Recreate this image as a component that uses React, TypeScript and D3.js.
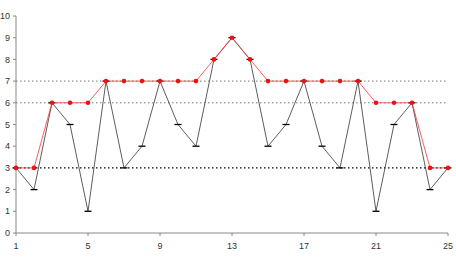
import React from "react";
import * as d3 from "d3";

const xValues = [1,2,3,4,5,6,7,8,9,10,11,12,13,14,15,16,17,18,19,20,21,22,23,24,25];
const blackSeries = [3,2,6,5,1,7,3,4,7,5,4,8,9,8,4,5,7,4,3,7,1,5,6,2,3];
const redSeries = [3,3,6,6,6,7,7,7,7,7,7,8,9,8,7,7,7,7,7,7,6,6,6,3,3];
const xTicks = [1,5,9,13,17,21,25];
const yTicks = [0,1,2,3,4,5,6,7,8,9,10];
const refLines = [
  { v: 7, color: "#555", width: 0.8 },
  { v: 6, color: "#555", width: 0.8 },
  { v: 3, color: "#000", width: 1.3 },
];

export default function App() {
  const W = 456, H = 260;
  const x = d3.scaleLinear().domain([1, 25]).range([16, 448]);
  const y = d3.scaleLinear().domain([0, 10]).range([233, 16]);
  const line = d3.line<number>().x((_, i) => x(xValues[i])).y((d) => y(d));
  const font = "'Liberation Sans Narrow', 'Arial Narrow', 'Liberation Sans', Arial, sans-serif";
  return (
    <svg width={W} height={H} style={{ position: "absolute", left: 0, top: 0, background: "#fff" }}>
      {refLines.map((r) => (
        <line key={r.v} x1={x(1)} x2={448} y1={y(r.v)} y2={y(r.v)} stroke={r.color}
          strokeWidth={r.width} strokeDasharray="1.5,2.5" />
      ))}
      {/* axes */}
      <line x1={x(1)} x2={x(1)} y1={y(0)} y2={y(10)} stroke="#888" strokeWidth={1} />
      <line x1={x(1)} x2={x(25)} y1={y(0)} y2={y(0)} stroke="#888" strokeWidth={1} />
      {yTicks.map((t) => (
        <g key={"y" + t}>
          <line x1={x(1) - 3} x2={x(1)} y1={y(t)} y2={y(t)} stroke="#888" />
          <text x={x(1) - 6} y={y(t)} dy="0.35em" textAnchor="end" fontSize={9} fontFamily={font} fill="#333">{t}</text>
        </g>
      ))}
      {xTicks.map((t) => (
        <g key={"x" + t}>
          <line x1={x(t)} x2={x(t)} y1={y(0)} y2={y(0) + 3} stroke="#888" />
          <text x={x(t)} y={y(0) + 13} dy="0.35em" textAnchor="middle" fontSize={9} fontFamily={font} fill="#333">{t}</text>
        </g>
      ))}
      <path d={line(blackSeries) ?? ""} fill="none" stroke="#333" strokeWidth={0.8} />
      {blackSeries.map((v, i) => (
        <line key={"b" + i} x1={x(xValues[i]) - 3.5} x2={x(xValues[i]) + 3.5} y1={y(v)} y2={y(v)} stroke="#000" strokeWidth={1.3} />
      ))}
      <path d={line(redSeries) ?? ""} fill="none" stroke="#ff3333" strokeWidth={0.8} />
      {redSeries.map((v, i) => (
        <circle key={"r" + i} cx={x(xValues[i])} cy={y(v)} r={2.3} fill="#ee1111" />
      ))}
    </svg>
  );
}
